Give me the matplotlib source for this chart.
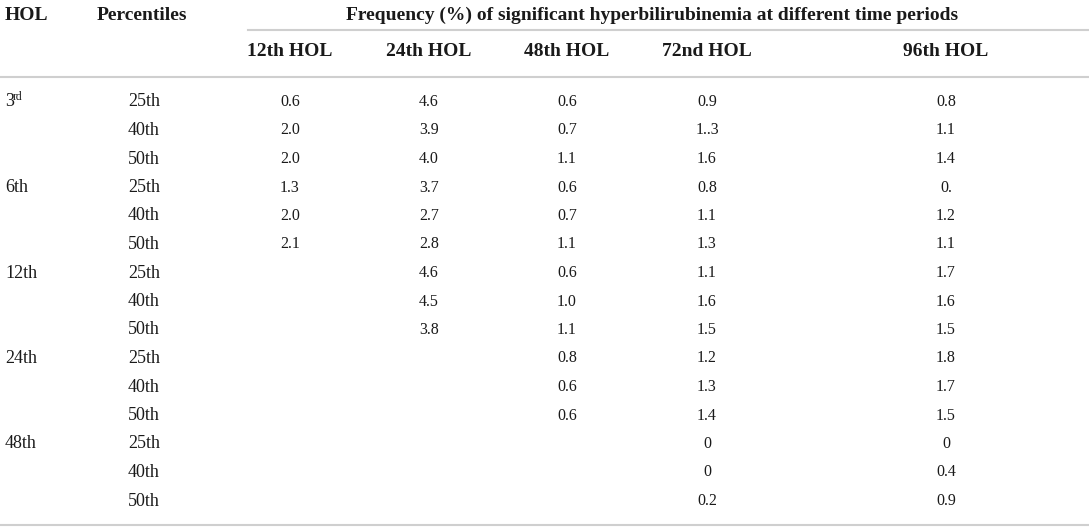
import matplotlib
matplotlib.use('Agg')
import matplotlib.pyplot as plt

plt.rcParams['font.family'] = ['Liberation Serif', 'DejaVu Serif']

# table content
hol_groups = ['3', '6th', '12th', '24th', '48th']
percentiles = ['25th', '40th', '50th']
time_cols = ['12th HOL', '24th HOL', '48th HOL', '72nd HOL', '96th HOL']
freq_12 = ['0.6', '2.0', '2.0', '1.3', '2.0', '2.1', '', '', '', '', '', '', '', '', '']
freq_24 = ['4.6', '3.9', '4.0', '3.7', '2.7', '2.8', '4.6', '4.5', '3.8', '', '', '', '', '', '']
freq_48 = ['0.6', '0.7', '1.1', '0.6', '0.7', '1.1', '0.6', '1.0', '1.1', '0.8', '0.6', '0.6', '', '', '']
freq_72 = ['0.9', '1..3', '1.6', '0.8', '1.1', '1.3', '1.1', '1.6', '1.5', '1.2', '1.3', '1.4', '0', '0', '0.2']
freq_96 = ['0.8', '1.1', '1.4', '0.', '1.2', '1.1', '1.7', '1.6', '1.5', '1.8', '1.7', '1.5', '0', '0.4', '0.9']

# layout (pixels)
col_x = [290, 429, 567, 707, 946]
row0, row_step = 102, 28.5
txt = '#1a1a1a'
rule = '#cfcfcf'

fig = plt.figure(figsize=(10.89, 5.30), dpi=100)
ax = fig.add_axes([0, 0, 1, 1])
ax.set_xlim(0, 1089)
ax.set_ylim(530, 0)
ax.axis('off')

# header
ax.text(5, 15, 'HOL', fontsize=14, fontweight='bold', color=txt, va='center')
ax.text(97, 15, 'Percentiles', fontsize=14, fontweight='bold', color=txt, va='center')
ax.text(652, 15, 'Frequency (%) of significant hyperbilirubinemia at different time periods',
        fontsize=14, fontweight='bold', color=txt, va='center', ha='center')
for x, lab in zip(col_x, time_cols):
    ax.text(x, 51, lab, fontsize=14, fontweight='bold', color=txt, va='center', ha='center')

ax.plot([248, 1089], [30, 30], color=rule, lw=1.5)
ax.plot([0, 1089], [77, 77], color=rule, lw=1.5)
ax.plot([0, 1089], [525, 525], color=rule, lw=1.5)

# body
cols = [freq_12, freq_24, freq_48, freq_72, freq_96]
for i in range(15):
    y = row0 + i * row_step
    if i % 3 == 0:
        g = hol_groups[i // 3]
        ax.text(5, y, g, fontsize=13, color=txt, va='center')
        if g == '3':
            ax.text(12.5, y - 5, 'rd', fontsize=8.5, color=txt, va='center')
    ax.text(128, y, percentiles[i % 3], fontsize=13, color=txt, va='center')
    for x, col in zip(col_x, cols):
        if col[i]:
            ax.text(x, y, col[i], fontsize=11.5, color=txt, va='center', ha='center')

plt.savefig('out.png', dpi=100)
